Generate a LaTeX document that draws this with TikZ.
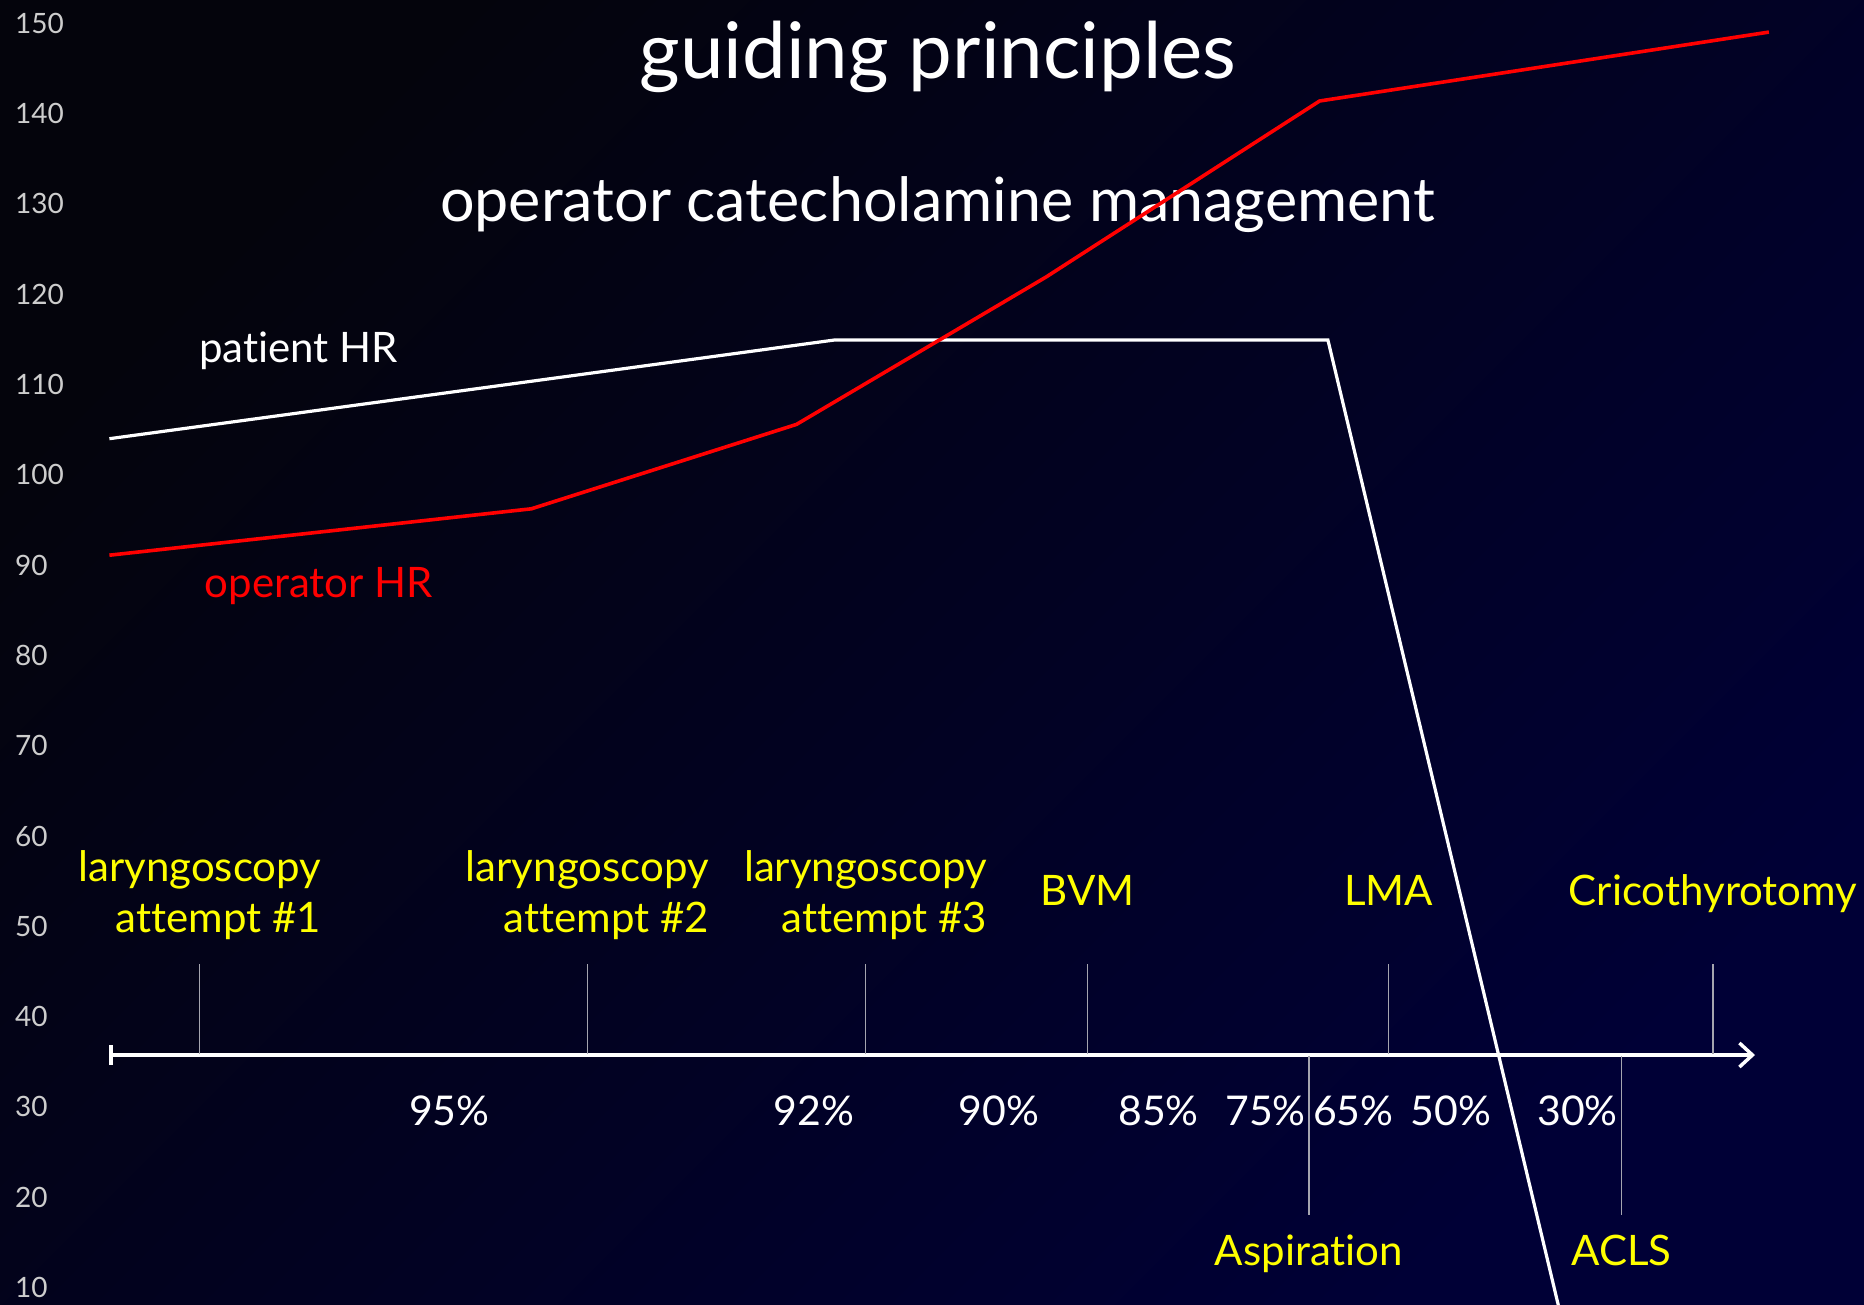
\documentclass[tikz,border=0pt]{standalone}
\usepackage{fontspec}
\setmainfont{Lato}[Ligatures=NoCommon]
\usetikzlibrary{arrows.meta}
\definecolor{bgtop}{RGB}{4,4,12}
\definecolor{bgbot}{RGB}{0,0,54}
\definecolor{ylw}{RGB}{255,255,0}
\definecolor{numgray}{RGB}{205,205,205}
\definecolor{tickgray}{RGB}{165,165,175}
\definecolor{hrred}{RGB}{255,0,0}
\begin{document}
\begin{tikzpicture}[x=1pt,y=-1pt,
  axnum/.style={text=numgray, inner sep=0pt, font=\fontsize{28}{28}\selectfont, anchor=base west},
  ylab/.style={text=ylw, inner sep=0pt, align=right, font=\fontsize{42}{50.7}\selectfont},
  ylab1/.style={text=ylw, inner sep=0pt, anchor=base, font=\fontsize{42}{50.7}\selectfont},
  pct/.style={text=white, inner sep=0pt, anchor=base, font=\fontsize{41}{41}\selectfont},
  tickline/.style={draw=tickgray, line width=1.4pt},
  axisline/.style={draw=white, line width=3.5pt},
  patient/.style={draw=white, line width=3.2pt, line join=miter},
  operator/.style={draw=hrred, line width=3.6pt, line join=round}]
\shade[shading=axis, top color=bgtop, bottom color=bgbot, shading angle=45] (0,0) rectangle (1864,1305);
\useasboundingbox (0,0) rectangle (1864,1305);

% y-axis numbers
\foreach \v in {150,140,...,10}
  \node[axnum] (n\v) at (15,{33.3+(150-\v)*9.03}) {\v};

% titles
\node[text=white, inner sep=0pt, anchor=base, font=\fontsize{78}{78}\selectfont] (title) at (938,78.5) {guiding principles};
\node[text=white, inner sep=0pt, anchor=base, font=\fontsize{61}{61}\selectfont] (subtitle) at (937.5,222) {operator catecholamine management};

% time axis
\coordinate (ax0) at (109.4,1055);
\coordinate (ax1) at (1755,1055);
\draw[axisline, {Bar[width=20pt,line width=3.5pt]}-{Straight Barb[length=13pt,width=24pt,line width=3.5pt]}] (ax0) -- (ax1);

% ticks above the axis
\foreach \name/\x in {t1/199.7, t2/587.3, t3/865.5, t4/1087.7, t5/1388.5, t6/1713.1} {
  \coordinate (\name top) at (\x,964);
  \coordinate (\name bot) at (\x,1054);
  \draw[tickline] (\name top) -- (\name bot);
}
% ticks below the axis
\foreach \name/\x in {b1/1308.9, b2/1621.5} {
  \coordinate (\name top) at (\x,1056);
  \coordinate (\name bot) at (\x,1215);
  \draw[tickline] (\name top) -- (\name bot);
}

% yellow event labels
\node[ylab] (l1) at (199.7,895) {laryngoscopy\\attempt \#1};
\node[ylab] (l2) at (587.3,895) {laryngoscopy\\attempt \#2};
\node[ylab] (l3) at (865.5,895) {laryngoscopy\\attempt \#3};
\node[ylab1] (bvm) at (1087.7,905) {BVM};
\node[ylab1] (lma) at (1388.5,905) {LMA};
\node[ylab1] (cric) at (1713.1,905) {Cricothyrotomy};
\node[ylab1] (asp) at (1308.9,1265) {Aspiration};
\node[ylab1] (acls) at (1621.5,1265) {ACLS};

% saturation labels
\node[pct] (s95) at (449.4,1125) {95\%};
\node[pct] (s92) at (813.7,1125) {92\%};
\node[pct] (s90) at (999.2,1125) {90\%};
\node[pct] (s85) at (1158.5,1125) {85\%};
\node[pct] (s75) at (1265.5,1125) {75\%};
\node[pct] (s65) at (1353.4,1125) {65\%};
\node[pct] (s50) at (1450.9,1125) {50\%};
\node[pct] (s30) at (1577.5,1125) {30\%};

% series labels
\node[text=white, inner sep=0pt, anchor=base west, font=\fontsize{42}{42}\selectfont] (phr) at (199,363) {patient HR};
\node[text=hrred, inner sep=0pt, anchor=base west, font=\fontsize{42}{42}\selectfont] (ohr) at (204.5,597.5) {operator HR};

% patient HR line
\coordinate (p1) at (109.4,438.7);
\coordinate (p2) at (834.5,340);
\coordinate (p3) at (1327.9,340);
\coordinate (p4) at (1558.5,1306);
\draw[patient] (p1) -- (p2) -- (p3) -- (p4);

% operator HR line
\coordinate (o1) at (109.4,555.2);
\coordinate (o2) at (531.4,508.8);
\coordinate (o3) at (796.5,424.4);
\coordinate (o4) at (1046.1,277.0);
\coordinate (o5) at (1319.6,101.0);
\coordinate (o6) at (1768.9,32.1);
\draw[operator] (o1) -- (o2) -- (o3) -- (o4) -- (o5) -- (o6);
\end{tikzpicture}
\end{document}
